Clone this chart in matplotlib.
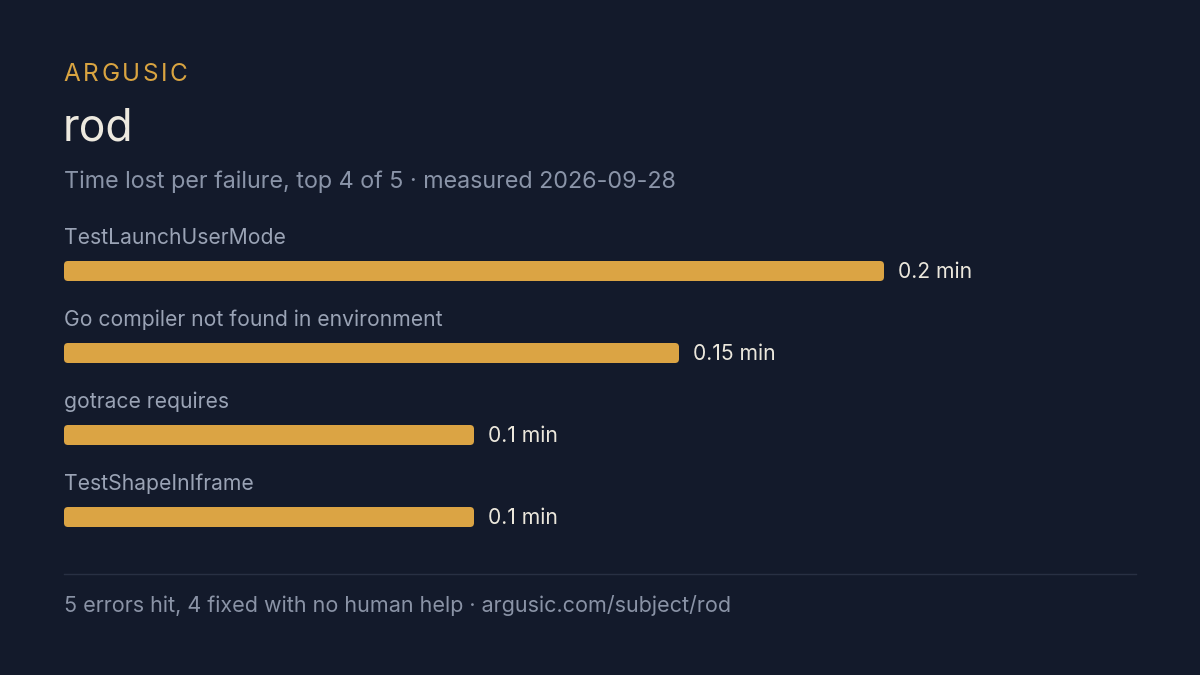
import matplotlib
matplotlib.use("Agg")
import matplotlib.pyplot as plt
from matplotlib.patches import FancyBboxPatch

plt.rcParams['font.family'] = ['Inter', 'DejaVu Sans']

brand = "ARGUSIC"
title = "rod"
subtitle = "Time lost per failure, top 4 of 5 · measured 2026-09-28"
categories = ["TestLaunchUserMode", "Go compiler not found in environment",
              "gotrace requires", "TestShapeInIframe"]
values = [0.2, 0.15, 0.1, 0.1]
value_labels = ["0.2 min", "0.15 min", "0.1 min", "0.1 min"]
footer = "5 errors hit, 4 fixed with no human help · argusic.com/subject/rod"

BG = "#131a2b"
BAR = "#dba444"
W, H = 1200, 675

fig = plt.figure(figsize=(12, 6.75), dpi=100, facecolor=BG)

def fx(px):
    return px / W

def fy(py):
    return 1 - py / H

# brand with letter spacing
renderer = fig.canvas.get_renderer()
x = 63.5
for ch in brand:
    t = fig.text(fx(x), fy(74.5), ch, color="#d9a441", fontsize=17.5,
                 va="center", ha="left")
    bb = t.get_window_extent(renderer)
    x += bb.width + 2.6

fig.text(fx(63), fy(128.5), title, color="#ede9df", fontsize=32, va="center", ha="left")
fig.text(fx(64), fy(181.5), subtitle, color="#8a94a8", fontsize=16.8, va="center", ha="left")

# axes for bars
px_per_unit = 4100.0
ax_left, ax_right = 64, 1136
ax_top, ax_bot = 220, 545
ax = fig.add_axes([fx(ax_left), fy(ax_bot), (ax_right - ax_left) / W, (ax_bot - ax_top) / H])
ax.set_facecolor("none")
ax.set_xlim(0, (ax_right - ax_left) / px_per_unit)
spacing = 82.0
first_center = 271.0
ax.set_ylim((ax_bot - first_center) / spacing, (ax_top - first_center) / spacing)
ax.axis("off")

bar_h = 20 / spacing
ypos = list(range(len(values)))
bars = ax.barh(ypos, values, height=bar_h, color=BAR)
aspect = px_per_unit / spacing
rs = 4 / px_per_unit
for b in list(bars):
    x0, y0, w, h = b.get_x(), b.get_y(), b.get_width(), b.get_height()
    b.remove()
    p = FancyBboxPatch((x0, y0), w, h,
                       boxstyle=f"round,pad=0,rounding_size={rs}",
                       mutation_aspect=aspect, facecolor=BAR, edgecolor="none")
    ax.add_patch(p)

for i, (cat, v, lab) in enumerate(zip(categories, values, value_labels)):
    ax.text(0, i - 33.5 / spacing, cat, color="#9aa3b5", fontsize=15.2,
            va="center", ha="left")
    ax.text(v + 14 / px_per_unit, i + 1 / spacing, lab, color="#ebe7dc", fontsize=15.2,
            va="center", ha="left")

# separator line
fig.add_artist(plt.Line2D([fx(64), fx(1136)], [fy(573.5), fy(573.5)],
                          color="#283043", linewidth=1))
fig.text(fx(64), fy(606), footer, color="#8a93a6", fontsize=15.5, va="center", ha="left")

fig.savefig("out.png", dpi=100, facecolor=BG)
